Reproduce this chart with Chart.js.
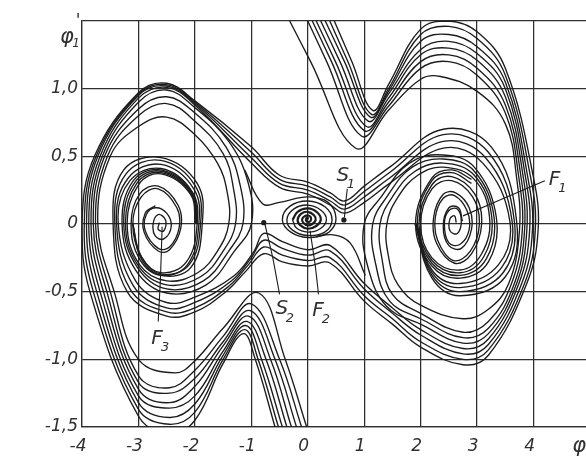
<!DOCTYPE html>
<html>
<head>
<meta charset="utf-8">
<title>Phase portrait</title>
<script src="https://cdn.jsdelivr.net/npm/chart.js@4.4.1/dist/chart.umd.min.js"></script>
<style>
  html, body { margin: 0; padding: 0; background: #fff; overflow: hidden; }
  #phase { display: block; }
</style>
</head>
<body>
<canvas id="phase" width="600" height="461"></canvas>
<script>
// trajectories as [phi, phi'] pairs

// runs entering from the top, looping round F1 (inner four) or passing under F2 into F3 (outer four)
const sweepsFromAbove = [
  [[-0.32,1.5],[0.05,1.2],[0.85,0.56],[1.43,0.84],[2.0,1.07],[2.35,1.09],[3.0,0.98],[3.5,0.74],[3.7,0.34],[3.75,-0.05],[3.56,-0.44],[3.2,-0.63],[2.75,-0.70],[2.0,-0.60],[1.6,-0.45],[1.43,-0.24],[1.4,0.0],[1.6,0.2],[1.95,0.36],[2.4,0.42],[2.95,0.33],[3.22,0.05],[3.08,-0.22],[2.7,-0.34],[2.2,-0.25],[2.0,0.0],[2.2,0.26],[2.55,0.32],[2.92,0.2],[3.04,0.0],[2.88,-0.2],[2.58,-0.27],[2.3,-0.12],[2.26,0.05],[2.4,0.19],[2.6,0.21],[2.82,0.1],[2.86,-0.04],[2.7,-0.15],[2.5,-0.14],[2.42,0.0],[2.5,0.1],[2.65,0.11],[2.72,0.02],[2.65,-0.07],[2.52,-0.05],[2.52,0.04],[2.6,0.06],[2.63,0.01]],
  [[0.0,1.5],[0.335,1.2],[0.95,0.65],[1.43,0.87],[2.0,1.15],[2.5,1.20],[3.0,1.10],[3.5,0.82],[3.74,0.34],[3.8,-0.05],[3.61,-0.44],[3.2,-0.72],[2.75,-0.80],[2.0,-0.66],[1.5,-0.52],[1.32,-0.27],[1.28,0.0],[1.5,0.2],[1.9,0.39],[2.4,0.45],[2.95,0.36],[3.26,0.05],[3.12,-0.24],[2.7,-0.36],[2.2,-0.27],[1.97,0.0],[2.2,0.29],[2.55,0.35],[2.96,0.22],[3.08,0.0],[2.9,-0.22],[2.6,-0.29],[2.28,-0.14],[2.23,0.05],[2.4,0.22],[2.62,0.23],[2.86,0.12],[2.9,-0.04],[2.72,-0.18],[2.5,-0.16],[2.4,-0.02],[2.5,0.12],[2.67,0.12],[2.74,0.02]],
  [[0.08,1.5],[0.42,1.2],[1.0,0.69],[1.43,0.90],[2.0,1.20],[2.5,1.25],[3.0,1.15],[3.5,0.88],[3.78,0.34],[3.84,-0.05],[3.66,-0.44],[3.2,-0.77],[2.75,-0.84],[2.0,-0.70],[1.45,-0.57],[1.2,-0.29],[1.15,0.0],[1.4,0.2],[1.85,0.42],[2.4,0.48],[2.95,0.39],[3.3,0.05],[3.16,-0.26],[2.7,-0.38],[2.2,-0.29],[1.94,0.0],[2.2,0.32],[2.55,0.38],[2.9,0.3]],
  [[0.15,1.5],[0.49,1.2],[1.04,0.72],[1.43,0.93],[2.0,1.25],[2.5,1.30],[3.0,1.21],[3.5,0.94],[3.82,0.34],[3.88,-0.05],[3.7,-0.44],[3.2,-0.81],[2.75,-0.88],[2.0,-0.74],[1.4,-0.61],[1.06,-0.31],[1.0,0.0],[1.3,0.2],[1.8,0.45],[2.4,0.51],[2.95,0.42],[3.34,0.05],[3.2,-0.28],[2.7,-0.40],[2.2,-0.31],[1.91,0.0],[2.2,0.34],[2.55,0.40],[2.9,0.33]],
  [[0.23,1.5],[0.57,1.2],[1.07,0.76],[1.43,0.96],[2.0,1.29],[2.5,1.35],[3.0,1.26],[3.5,1.0],[3.86,0.34],[3.93,-0.05],[3.74,-0.44],[3.2,-0.85],[2.75,-0.92],[2.0,-0.78],[1.5,-0.62],[1.0,-0.44],[0.4,-0.16],[0.0,-0.19],[-0.45,-0.13],[-0.78,-0.07],[-0.95,-0.2],[-1.3,-0.38],[-2.0,-0.54],[-2.5,-0.58],[-3.05,-0.42],[-3.36,0.02],[-3.15,0.32],[-2.6,0.41],[-2.05,0.24],[-1.96,0.0],[-2.15,-0.28],[-2.6,-0.36],[-2.95,-0.24],[-3.1,0.0],[-2.95,0.2],[-2.65,0.26],[-2.32,0.12],[-2.28,-0.03],[-2.45,-0.17],[-2.65,-0.18],[-2.88,-0.05],[-2.86,0.07],[-2.7,0.12],[-2.5,0.08],[-2.42,-0.02],[-2.55,-0.11],[-2.7,-0.09],[-2.74,0.0],[-2.65,0.07],[-2.52,0.03],[-2.55,-0.05],[-2.65,-0.04],[-2.63,0.01]],
  [[0.31,1.5],[0.65,1.2],[1.11,0.79],[1.43,0.98],[2.0,1.35],[2.5,1.40],[3.0,1.31],[3.5,1.05],[3.9,0.34],[3.98,-0.05],[3.79,-0.44],[3.2,-0.89],[2.75,-0.96],[2.0,-0.82],[1.5,-0.66],[1.0,-0.48],[0.4,-0.20],[0.0,-0.23],[-0.45,-0.18],[-0.78,-0.12],[-1.0,-0.25],[-1.35,-0.42],[-2.0,-0.58],[-2.5,-0.62],[-3.1,-0.45],[-3.39,0.02],[-3.18,0.34],[-2.6,0.44],[-2.02,0.26],[-1.93,0.0],[-2.13,-0.3],[-2.6,-0.38],[-2.98,-0.26],[-3.13,0.0],[-2.98,0.22],[-2.65,0.28],[-2.3,0.14],[-2.25,-0.03],[-2.45,-0.19],[-2.65,-0.2],[-2.9,-0.06],[-2.88,0.08],[-2.7,0.135]],
  [[0.39,1.5],[0.71,1.2],[1.13,0.81],[1.43,1.0],[2.0,1.40],[2.5,1.46],[3.0,1.37],[3.5,1.10],[3.95,0.34],[4.03,-0.05],[3.84,-0.44],[3.2,-0.93],[2.75,-1.0],[2.0,-0.87],[1.5,-0.7],[1.0,-0.53],[0.4,-0.25],[0.0,-0.27],[-0.45,-0.23],[-0.78,-0.17],[-1.05,-0.3],[-1.4,-0.46],[-2.0,-0.62],[-2.5,-0.65],[-3.15,-0.48],[-3.42,0.02],[-3.22,0.37],[-2.6,0.47],[-1.99,0.28],[-1.9,0.0],[-2.1,-0.3],[-2.6,-0.37],[-2.95,-0.24],[-3.1,0.0]],
  [[0.47,1.5],[0.78,1.2],[1.15,0.84],[1.43,1.03],[2.0,1.44],[2.5,1.50],[3.0,1.42],[3.5,1.15],[4.0,0.34],[4.08,-0.05],[3.88,-0.44],[3.2,-0.97],[2.75,-1.04],[2.0,-0.91],[1.5,-0.74],[1.0,-0.57],[0.4,-0.29],[0.0,-0.31],[-0.45,-0.28],[-0.78,-0.22],[-1.1,-0.35],[-1.45,-0.5],[-2.0,-0.65],[-2.5,-0.68],[-3.2,-0.5],[-3.45,0.02],[-3.26,0.4],[-2.6,0.49],[-1.96,0.3],[-1.87,0.0],[-2.07,-0.32],[-2.6,-0.38],[-2.96,-0.25],[-3.1,0.0]]
];

// runs entering from the bottom, looping round F3 (inner four) or passing over F2 into F1 (outer four)
const sweepsFromBelow = [
  [[-0.02,-1.5],[-0.40,-1.0],[-0.87,-0.51],[-1.5,-0.77],[-2.0,-1.01],[-2.35,-1.10],[-3.0,-1.0],[-3.43,-0.5],[-3.72,0.0],[-3.5,0.5],[-3.0,0.72],[-2.5,0.79],[-2.0,0.66],[-1.6,0.45],[-1.43,0.24],[-1.4,0.0],[-1.6,-0.2],[-1.95,-0.36],[-2.5,-0.42],[-2.98,-0.3],[-3.2,0.0],[-3.0,0.29],[-2.6,0.37],[-2.08,0.22],[-1.99,0.0]],
  [[-0.11,-1.5],[-0.50,-1.0],[-1.0,-0.59],[-1.5,-0.83],[-2.0,-1.08],[-2.45,-1.21],[-3.0,-1.12],[-3.5,-0.5],[-3.76,0.0],[-3.55,0.5],[-3.0,0.80],[-2.5,0.89],[-2.0,0.76],[-1.5,0.52],[-1.32,0.27],[-1.28,0.0],[-1.5,-0.2],[-1.9,-0.39],[-2.5,-0.45],[-3.0,-0.31],[-3.23,0.0],[-3.03,0.3],[-2.6,0.38],[-2.07,0.225],[-1.98,0.0]],
  [[-0.20,-1.5],[-0.58,-1.0],[-1.02,-0.64],[-1.5,-0.87],[-2.0,-1.14],[-2.45,-1.25],[-3.0,-1.17],[-3.56,-0.5],[-3.8,0.0],[-3.6,0.5],[-3.0,0.85],[-2.5,0.94],[-2.0,0.82],[-1.45,0.57],[-1.2,0.29],[-1.15,0.0],[-1.4,-0.2],[-1.85,-0.42],[-2.5,-0.48],[-3.02,-0.32],[-3.26,0.0],[-3.06,0.31],[-2.6,0.39],[-2.06,0.23],[-1.97,0.0]],
  [[-0.29,-1.5],[-0.66,-1.0],[-1.05,-0.68],[-1.5,-0.90],[-2.0,-1.2],[-2.45,-1.32],[-3.0,-1.22],[-3.62,-0.5],[-3.84,0.0],[-3.64,0.5],[-3.0,0.90],[-2.5,0.99],[-2.0,0.86],[-1.4,0.61],[-1.06,0.31],[-1.0,0.0],[-1.3,-0.2],[-1.8,-0.45],[-2.5,-0.51],[-3.05,-0.34],[-3.29,0.0],[-3.09,0.32],[-2.6,0.40],[-2.05,0.235],[-1.96,0.0]],
  [[-0.37,-1.5],[-0.74,-1.0],[-1.08,-0.72],[-1.5,-0.94],[-2.0,-1.27],[-2.45,-1.36],[-3.0,-1.27],[-3.68,-0.5],[-3.88,0.0],[-3.68,0.5],[-3.0,0.93],[-2.5,1.01],[-2.0,0.88],[-1.0,0.45],[-0.5,0.27],[0.0,0.22],[0.4,0.14],[0.65,0.08],[1.0,0.16],[1.45,0.3],[2.4,0.56],[3.1,0.45],[3.58,0.02],[3.38,-0.3],[2.7,-0.44],[2.2,-0.34],[1.93,0.0]],
  [[-0.45,-1.5],[-0.82,-1.0],[-1.1,-0.75],[-1.5,-0.97],[-2.0,-1.33],[-2.45,-1.43],[-3.0,-1.32],[-3.74,-0.5],[-3.92,0.0],[-3.72,0.5],[-3.0,0.95],[-2.5,1.02],[-2.0,0.89],[-1.0,0.49],[-0.5,0.30],[0.0,0.25],[0.4,0.17],[0.65,0.11],[1.0,0.2],[1.45,0.34],[2.4,0.61],[3.15,0.49],[3.62,0.02],[3.42,-0.33],[2.7,-0.47],[2.2,-0.36],[1.92,0.0]],
  [[-0.52,-1.5],[-0.88,-1.0],[-1.12,-0.78],[-1.5,-1.0],[-2.0,-1.39],[-2.45,-1.48],[-3.0,-1.37],[-3.8,-0.5],[-3.96,0.0],[-3.75,0.5],[-3.0,0.96],[-2.5,1.03],[-2.0,0.90],[-1.0,0.53],[-0.5,0.33],[0.0,0.28],[0.4,0.2],[0.65,0.14],[1.0,0.24],[1.45,0.38],[2.4,0.66],[3.2,0.53],[3.66,0.02],[3.46,-0.36],[2.7,-0.5],[2.2,-0.38],[1.91,0.0]],
  [[-0.58,-1.5],[-0.93,-1.0],[-1.14,-0.81],[-1.5,-1.03],[-2.0,-1.45],[-2.45,-1.55],[-3.0,-1.42],[-3.86,-0.5],[-4.0,0.0],[-3.78,0.5],[-3.0,0.97],[-2.5,1.04],[-2.0,0.91],[-1.0,0.57],[-0.5,0.36],[0.0,0.31],[0.4,0.23],[0.65,0.17],[1.0,0.28],[1.45,0.42],[2.4,0.70],[3.25,0.57],[3.7,0.02],[3.5,-0.39],[2.7,-0.53],[2.2,-0.4],[1.9,0.0]]
];

// focus F2: outer turns, the tight core, and the arc coming in past S2
const centreSpiral = [[1.02,-0.38],[0.75,-0.14],[0.45,-0.08],[0.0,-0.1],[-0.3,-0.06],[-0.45,0.03],[-0.32,0.13],[0.0,0.17],[0.31,0.125],[0.43,0.03],[0.3,-0.06],[0.0,-0.085],[-0.27,-0.045],[-0.37,0.03],[-0.25,0.11],[0.0,0.14],[0.24,0.1],[0.33,0.03],[0.22,-0.035],[0.0,-0.06],[-0.2,-0.03],[-0.27,0.03]];
const centreCore = [[-0.27,0.03],[-0.18,0.09],[0.0,0.115],[0.17,0.085],[0.23,0.03],[0.15,-0.015],[0.0,-0.035],[-0.13,-0.01],[-0.18,0.03],[-0.12,0.075],[0.0,0.09],[0.11,0.065],[0.14,0.03],[0.08,0.0],[0.0,-0.01],[-0.08,0.01],[-0.1,0.035],[-0.05,0.06],[0.03,0.06],[0.06,0.035],[0.02,0.015],[-0.03,0.025],[-0.02,0.045],[0.02,0.04]];
const centreArc = [[-1.12,0.4],[-0.8,0.15],[-0.5,0.16],[0.0,0.2],[0.36,0.16],[0.5,0.04],[0.38,-0.06],[0.15,-0.095]];

// saddle points S1, S2
const saddles = [[0.64, 0.03], [-0.78, 0.01]];

// leader lines from the marks to their labels
const leaders = [
  [[0.7,0.26],[0.67,0.15],[0.65,0.05]],
  [[2.75,0.06],[4.2,0.32]],
  [[-0.76,0.0],[-0.62,-0.25],[-0.5,-0.52]],
  [[0.04,-0.05],[0.13,-0.3],[0.19,-0.52]],
  [[-2.58,-0.02],[-2.61,-0.4],[-2.65,-0.72]]
];

// label letter, subscript, position
const markLabels = [
  ['S', '1', 0.62, 0.355],
  ['F', '1', 4.37, 0.33],
  ['S', '2', -0.46, -0.63],
  ['F', '2', 0.18, -0.64],
  ['F', '3', -2.67, -0.85]
];

const xTickText = ['-4', '-3', '-2', '-1', '0', '1', '2', '3', '4', ''];
const yTickText = ['-1,5', '-1,0', '-0,5', '0', '0,5', '1,0', ''];

const ink = '#1c1c1c';
const gridInk = '#2e2e2e';
const labelInk = '#303030';
const face = '"DejaVu Sans", "Liberation Sans", sans-serif';

function trace(pts, width, tension) {
  return {
    data: pts.map(([x, y]) => ({ x, y })),
    borderColor: ink,
    borderWidth: width || 1.35,
    pointRadius: 0,
    tension: tension === undefined ? 0.4 : tension,
    fill: false
  };
}

const datasets = [
  ...sweepsFromAbove.map(p => trace(p)),
  ...sweepsFromBelow.map(p => trace(p)),
  trace(centreSpiral),
  trace(centreCore, 2.2),
  trace(centreArc),
  ...leaders.map(p => trace(p, 1.1, 0.2)),
  {
    data: saddles.map(([x, y]) => ({ x, y })),
    showLine: false,
    pointRadius: 2.6,
    pointBackgroundColor: ink,
    pointBorderWidth: 0
  }
];

// text that is not a tick label: mark names and axis names
const phaseNotes = {
  id: 'phaseNotes',
  afterDraw(chart) {
    const { ctx, chartArea, scales } = chart;
    ctx.save();
    ctx.fillStyle = labelInk;
    ctx.textAlign = 'center';
    ctx.textBaseline = 'middle';
    markLabels.forEach(([main, sub, px, py]) => {
      const cx = scales.x.getPixelForValue(px);
      const cy = scales.y.getPixelForValue(py);
      ctx.font = 'italic 20px ' + face;
      ctx.fillText(main, cx, cy);
      ctx.font = 'italic 13px ' + face;
      ctx.fillText(sub, cx + 8, cy + 9);
    });

    ctx.font = 'italic 21px ' + face;
    ctx.fillText('\u03c6', chartArea.left - 15, chartArea.top + 17);
    ctx.font = 'italic 12px ' + face;
    ctx.fillText('1', chartArea.left - 6, chartArea.top + 23);
    ctx.font = 'italic 17px ' + face;
    ctx.fillText("'", chartArea.left - 4, chartArea.top + 1);

    ctx.font = 'italic 21px ' + face;
    ctx.fillText('\u03c6', scales.x.getPixelForValue(4.81), chartArea.bottom + 20);
    ctx.restore();
  }
};

new Chart(document.getElementById('phase').getContext('2d'), {
  type: 'line',
  data: { datasets },
  options: {
    responsive: false,
    animation: false,
    events: [],
    layout: { padding: { top: 21, right: 10, left: 0, bottom: 0 } },
    plugins: { legend: { display: false }, tooltip: { enabled: false } },
    scales: {
      x: {
        type: 'linear',
        min: -4,
        max: 5,
        afterFit: (scale) => { scale.height = 34; },
        grid: { color: gridInk, lineWidth: 1.25, drawTicks: false },
        border: { color: gridInk, width: 1.25 },
        ticks: {
          stepSize: 1,
          padding: 9,
          labelOffset: -4,
          maxRotation: 0,
          autoSkip: false,
          color: labelInk,
          font: { family: face, size: 17, style: 'italic' },
          callback: (v, i) => xTickText[i]
        }
      },
      y: {
        type: 'linear',
        min: -1.5,
        max: 1.5,
        afterFit: (scale) => { scale.width = 82; },
        grid: { color: gridInk, lineWidth: 1.25, drawTicks: false },
        border: { color: gridInk, width: 1.25 },
        ticks: {
          stepSize: 0.5,
          padding: 4,
          autoSkip: false,
          color: labelInk,
          font: { family: face, size: 17, style: 'italic' },
          callback: (v, i) => yTickText[i]
        }
      }
    }
  },
  plugins: [phaseNotes]
});
</script>
</body>
</html>
